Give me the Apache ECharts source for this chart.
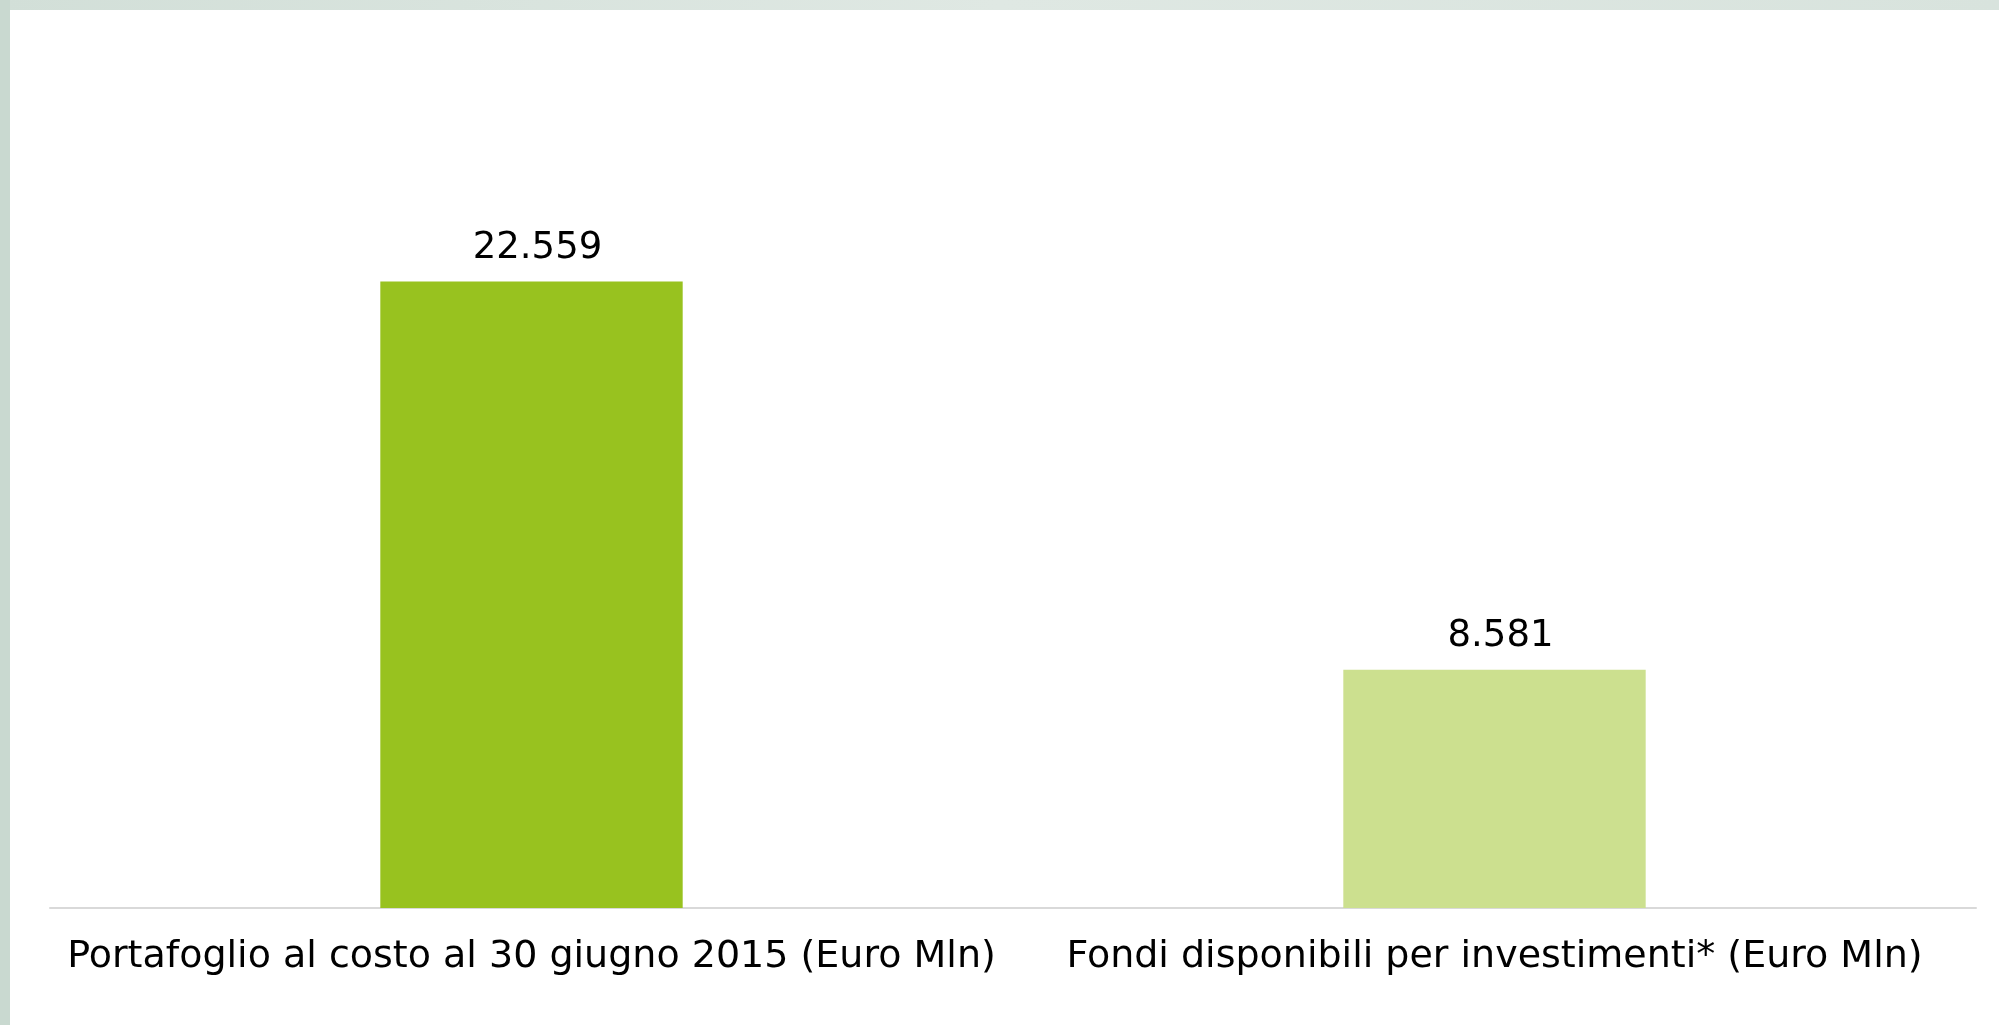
<!DOCTYPE html>
<html>
<head>
<meta charset="utf-8">
<script src="https://cdn.jsdelivr.net/npm/echarts@6/dist/echarts.min.js"></script>
<style>
html,body{margin:0;padding:0;background:#fff;}
#chart{width:1999px;height:1025px;}
</style>
</head>
<body>
<div id="chart"></div>
<script>
const categories = ["Portafoglio al costo al 30 giugno 2015 (Euro Mln)", "Fondi disponibili per investimenti* (Euro Mln)"];
const values = [22559, 8581];
const valueLabels = ["22.559", "8.581"];
const barColors = ["#98c21f", "#cce08f"];

const chart = echarts.init(document.getElementById('chart'));
chart.setOption({
  backgroundColor: '#ffffff',
  animation: false,
  graphic: [
    { type: 'rect', left: 0, top: 0, shape: { width: 1999, height: 10 },
      style: { fill: new echarts.graphic.LinearGradient(0, 0, 1, 0, [
        { offset: 0, color: '#d2dfd8' }, { offset: 0.5, color: '#dfe8e3' }, { offset: 1, color: '#d8e3dd' }]) }, silent: true },
    { type: 'rect', left: 0, top: 0, shape: { width: 10, height: 1025 },
      style: { fill: '#c9d9d0' }, silent: true }
  ],
  grid: { left: 50, right: 23, top: 75, bottom: 117, containLabel: false },
  xAxis: {
    type: 'category',
    data: categories,
    axisLine: { show: true, lineStyle: { color: '#d9d9d9', width: 2 } },
    axisTick: { show: false },
    axisLabel: { interval: 0, color: '#000000', fontFamily: 'DejaVu Sans', fontSize: 38, margin: 30 }
  },
  yAxis: {
    type: 'value', min: 0, max: 30000, show: false,
    splitLine: { show: false }
  },
  series: [{
    type: 'bar',
    barWidth: '31.4%',
    data: values.map((v, i) => ({ value: v, itemStyle: { color: barColors[i] } })),
    label: {
      show: true, position: 'top', distance: 16, offset: [6, 1],
      color: '#000000', fontFamily: 'DejaVu Sans', fontSize: 37,
      formatter: p => valueLabels[p.dataIndex]
    }
  }]
});
</script>
</body>
</html>
